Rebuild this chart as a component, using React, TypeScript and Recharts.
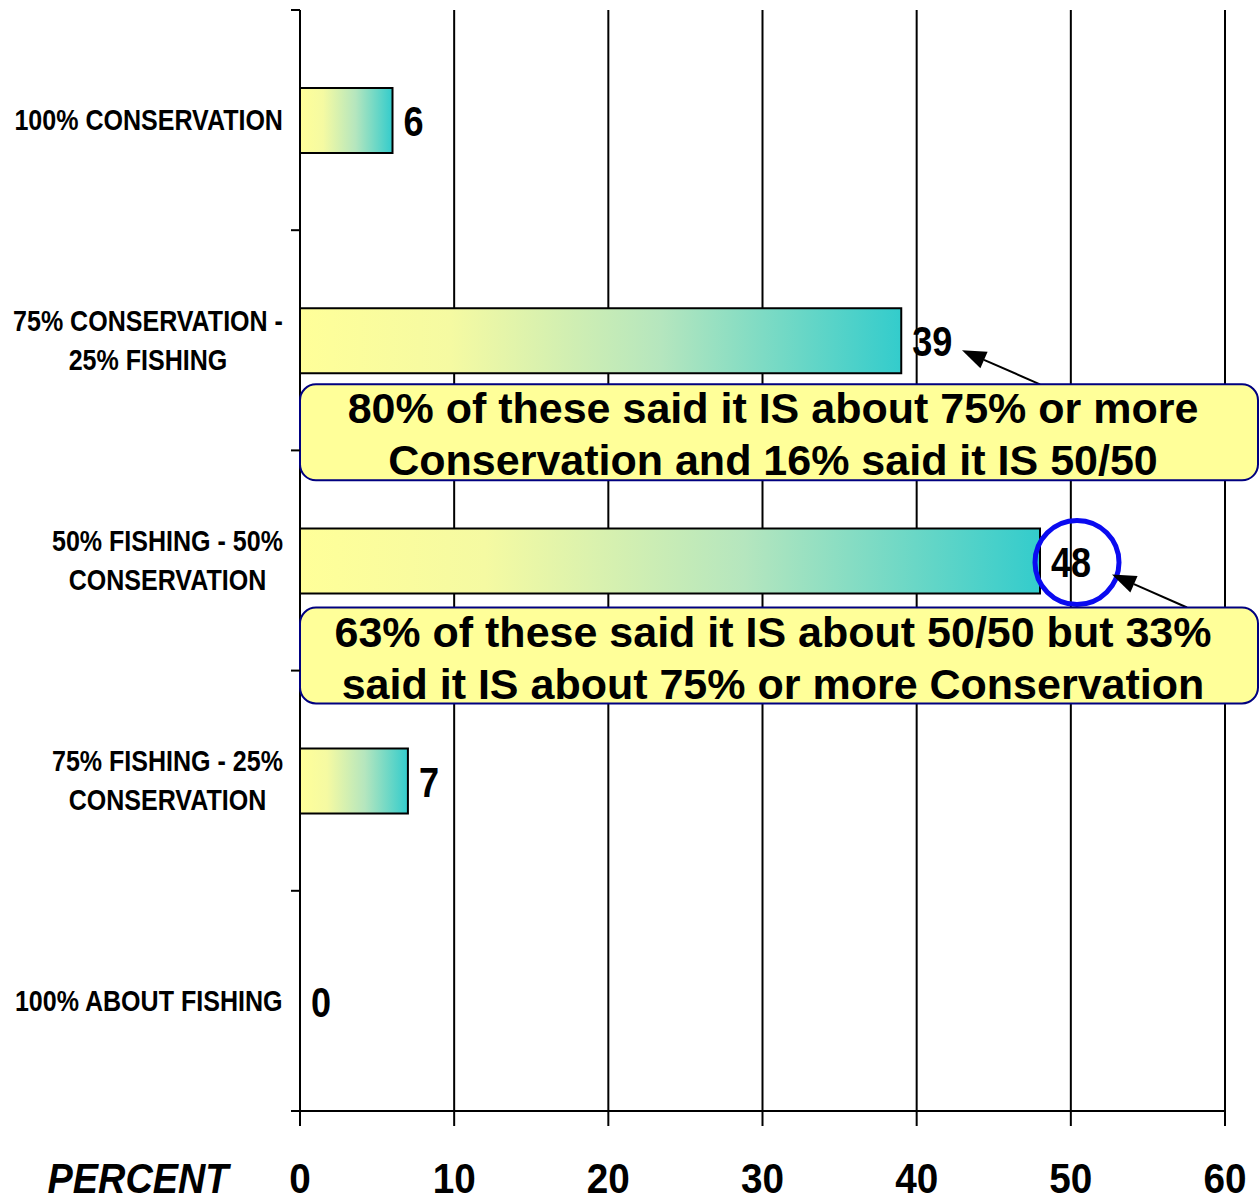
import {
  BarChart,
  Bar,
  XAxis,
  YAxis,
  CartesianGrid,
  ReferenceDot,
} from "recharts";

const categories = [
  "100% CONSERVATION",
  "75% CONSERVATION -\n25% FISHING",
  "50% FISHING - 50%\nCONSERVATION",
  "75% FISHING - 25%\nCONSERVATION",
  "100% ABOUT FISHING",
];
const percents = [6, 39, 48, 7, 0];
const xTicks = [0, 10, 20, 30, 40, 50, 60];

const note1Lines = [
  "80% of these said it IS about 75% or more",
  "Conservation and 16% said it IS 50/50",
];
const note2Lines = [
  "63% of these said it IS about 50/50 but 33%",
  "said it IS about 75% or more Conservation",
];

const data = categories.map((name, i) => ({ name, value: percents[i] }));

const ARIAL = "'Liberation Sans', Arial, sans-serif";

let ctx: CanvasRenderingContext2D | null = null;
function measure(text: string, font: string) {
  if (!ctx) ctx = document.createElement("canvas").getContext("2d");
  if (!ctx) return text.length * 15;
  ctx.font = font;
  return ctx.measureText(text).width;
}

// no Arial Narrow installed, so squeeze bold Liberation Sans
function Narrow({ x, y, size, anchor = "start", italic = false, squeeze = 0.82, children }: any) {
  return (
    <text
      transform={`translate(${x},${y}) scale(${squeeze},1)`}
      x={0}
      y={0}
      textAnchor={anchor}
      fontFamily={ARIAL}
      fontWeight="bold"
      fontStyle={italic ? "italic" : "normal"}
      fontSize={size}
      fill="#000"
    >
      {children}
    </text>
  );
}

const CategoryTick = (props: any) => {
  const { x, y, payload, index } = props;
  const lines = String(payload.value).split("\n");
  const half = payload.offset ?? 110;
  const sq = 0.835;
  const w = Math.max(...lines.map((l) => measure(l, `bold 30px ${ARIAL}`))) * sq;
  const cx = x - 17 - w / 2;
  const lh = 39;
  const top = y - 1 - ((lines.length - 1) * lh) / 2;
  return (
    <g>
      <line x1={x - 9} x2={x} y1={y - half} y2={y - half} stroke="#000" strokeWidth={2} />
      {index === categories.length - 1 && (
        <line x1={x - 9} x2={x} y1={y + half} y2={y + half} stroke="#000" strokeWidth={2} />
      )}
      {lines.map((l, i) => (
        <Narrow key={i} x={cx} y={top + i * lh + 11} size={30} anchor="middle" squeeze={sq}>
          {l}
        </Narrow>
      ))}
    </g>
  );
};

const PercentTick = (props: any) => {
  const { x, y, payload } = props;
  return (
    <Narrow x={x} y={y + 67} size={43} anchor="middle" squeeze={0.9}>
      {payload.value}
    </Narrow>
  );
};

const PercentLabel = (props: any) => {
  const { viewBox } = props;
  return (
    <Narrow x={viewBox.x - 162} y={viewBox.y + 82} size={43} anchor="middle" italic squeeze={0.88}>
      PERCENT
    </Narrow>
  );
};

const ValueLabel = (props: any) => {
  const { cx, cy, value } = props;
  return (
    <Narrow x={cx + 11} y={cy + 16} size={43} squeeze={0.84}>
      {value}
    </Narrow>
  );
};

function Arrow({ x1, y1, x2, y2 }: { x1: number; y1: number; x2: number; y2: number }) {
  const a = Math.atan2(y2 - y1, x2 - x1);
  const len = 24;
  const hw = 9;
  const bx = x2 - len * Math.cos(a);
  const by = y2 - len * Math.sin(a);
  const px = -Math.sin(a) * hw;
  const py = Math.cos(a) * hw;
  return (
    <g>
      <line x1={x1} y1={y1} x2={bx} y2={by} stroke="#000" strokeWidth={2} />
      <polygon points={`${x2},${y2} ${bx + px},${by + py} ${bx - px},${by - py}`} fill="#000" />
    </g>
  );
}

const Note = (props: any) => {
  const { cx, cy, lines, top, arrow, ring } = props;
  const w = 958;
  const h = 96;
  const y0 = cy + top;
  return (
    <g>
      {ring && (
        <circle cx={cx + ring[0]} cy={cy + ring[1]} r={42} fill="none" stroke="#0A0AF0" strokeWidth={5} />
      )}
      <Arrow x1={cx + arrow[0]} y1={y0} x2={cx + arrow[1]} y2={cy + arrow[2]} />
      <rect x={cx} y={y0} width={w} height={h} rx={16} fill="#FFFF99" stroke="#000080" strokeWidth={2} />
      {lines.map((l: string, i: number) => (
        <text
          key={i}
          x={cx + w / 2 - 6}
          y={y0 + 39 + i * 52}
          textAnchor="middle"
          fontFamily={ARIAL}
          fontWeight="bold"
          fontSize={43}
          fill="#000"
        >
          {l}
        </text>
      ))}
    </g>
  );
};

export default function App() {
  return (
    <div style={{ position: "absolute", left: 0, top: 0, background: "#fff" }}>
      <BarChart
        width={1260}
        height={1199}
        data={data}
        layout="vertical"
        margin={{ top: 10, right: 35, bottom: 0, left: 0 }}
      >
        <defs>
          <linearGradient id="barFill" x1="0" y1="0" x2="1" y2="0">
            <stop offset="0%" stopColor="#FFFF99" />
            <stop offset="25%" stopColor="#F5FAA2" />
            <stop offset="60%" stopColor="#B5E6BE" />
            <stop offset="100%" stopColor="#33CCCC" />
          </linearGradient>
        </defs>
        <CartesianGrid horizontal={false} stroke="#000" strokeWidth={2} />
        <XAxis
          type="number"
          domain={[0, 60]}
          ticks={xTicks}
          interval={0}
          height={88}
          tickSize={15}
          tickMargin={0}
          axisLine={{ stroke: "#000", strokeWidth: 2 }}
          tickLine={{ stroke: "#000", strokeWidth: 2 }}
          tick={<PercentTick />}
          label={<PercentLabel />}
        />
        <YAxis
          type="category"
          dataKey="name"
          width={300}
          tickSize={0}
          tickMargin={0}
          interval={0}
          axisLine={{ stroke: "#000", strokeWidth: 2 }}
          tickLine={false}
          tick={<CategoryTick />}
        />
        <Bar
          dataKey="value"
          barSize={65}
          fill="url(#barFill)"
          stroke="#000"
          strokeWidth={2}
          isAnimationActive={false}
        />
        {data.map((d) => (
          <ReferenceDot
            key={d.name}
            x={d.value}
            y={d.name}
            r={0}
            ifOverflow="visible"
            shape={(p: any) => <ValueLabel {...p} value={d.value} />}
          />
        ))}
        <ReferenceDot
          x={0}
          y={categories[1]}
          r={0}
          ifOverflow="visible"
          shape={(p: any) => <Note {...p} lines={note1Lines} top={44} arrow={[740, 662, 10]} />}
        />
        <ReferenceDot
          x={0}
          y={categories[2]}
          r={0}
          ifOverflow="visible"
          shape={(p: any) => (
            <Note {...p} lines={note2Lines} top={47} arrow={[887, 812, 14]} ring={[777, 2]} />
          )}
        />
      </BarChart>
    </div>
  );
}
